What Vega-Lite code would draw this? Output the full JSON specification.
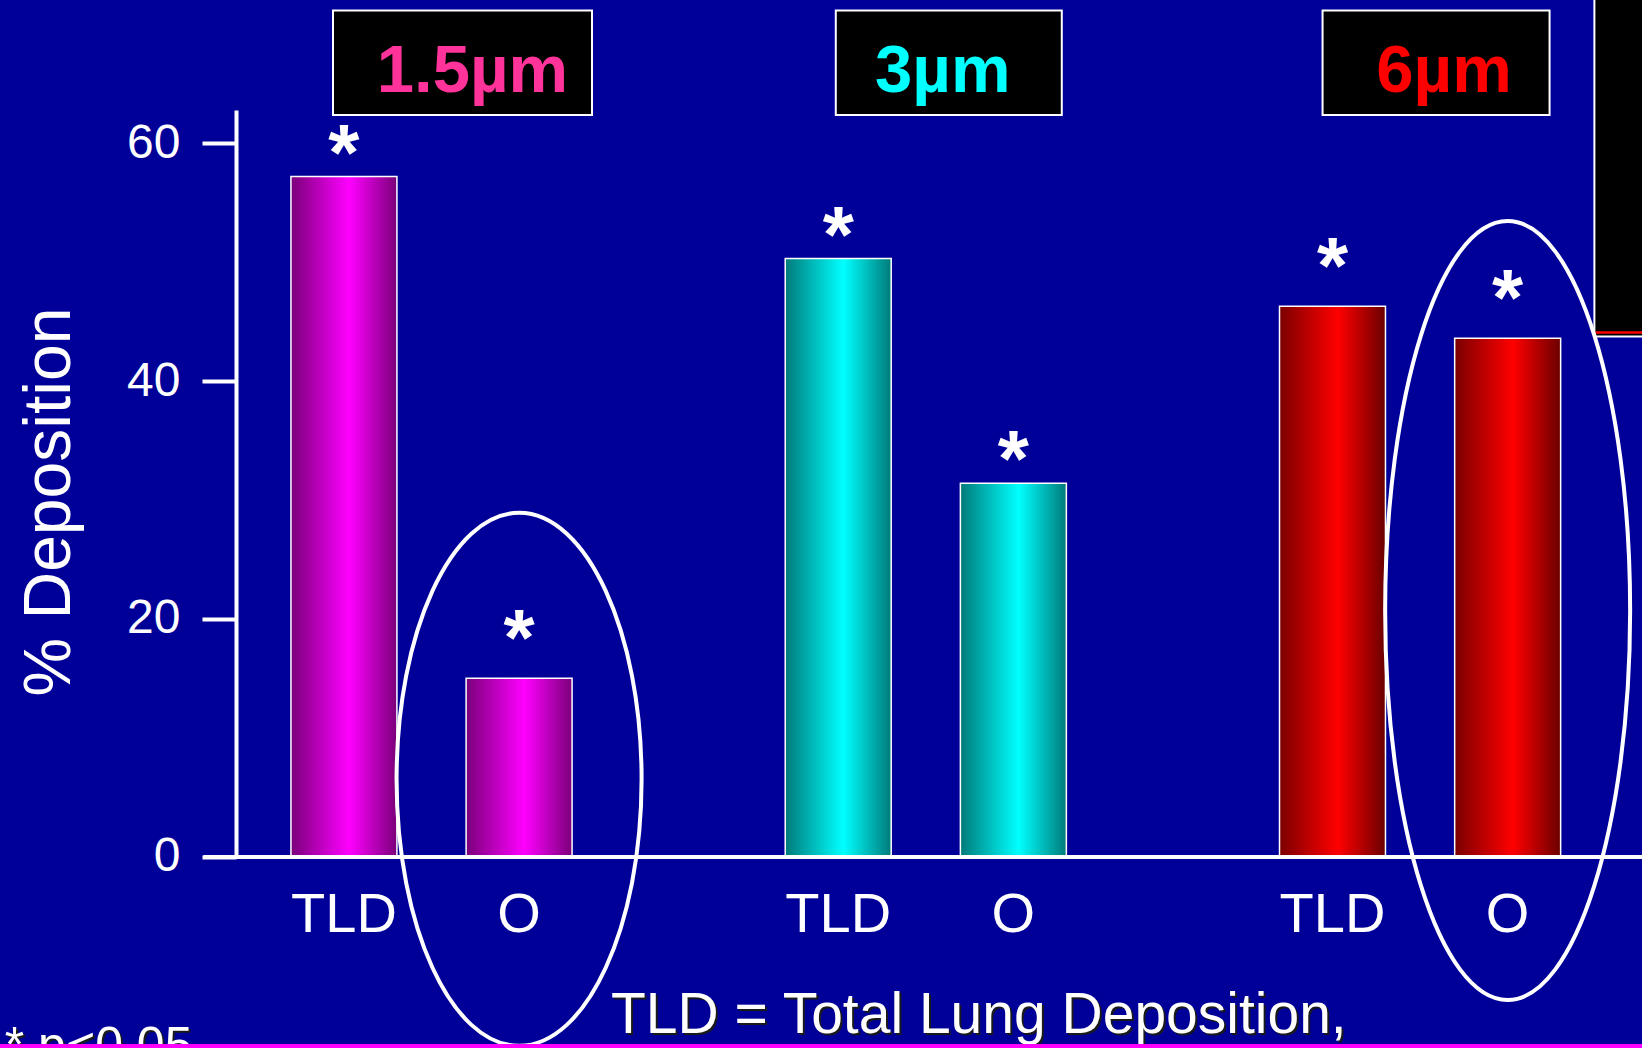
{
  "$schema": "https://vega.github.io/schema/vega-lite/v6.json",
  "autosize": {"type": "none"},
  "width": 1642,
  "height": 746.6,
  "padding": {"left": 0, "top": 110, "right": 0, "bottom": 191.4},
  "background": "#000099",
  "config": {"view": {"stroke": null}, "font": "Liberation Sans"},
  "datasets": {
    "deposition": [
      {"size": "1.5µm", "type": "TLD", "value": 57.2},
      {"size": "1.5µm", "type": "O", "value": 15.0},
      {"size": "3µm", "type": "TLD", "value": 50.3},
      {"size": "3µm", "type": "O", "value": 31.4},
      {"size": "6µm", "type": "TLD", "value": 46.3},
      {"size": "6µm", "type": "O", "value": 43.6}
    ],
    "sizes": [{"size": "1.5µm"}, {"size": "3µm"}, {"size": "6µm"}]
  },
  "layer": [
    {
      "data": {"name": "deposition"},
      "mark": {"type": "bar", "stroke": "white", "strokeWidth": 1.5},
      "encoding": {
        "x": {
          "field": "size",
          "type": "nominal",
          "scale": {"domain": ["1.5µm", "3µm", "6µm"], "paddingInner": 0.208, "paddingOuter": 0.265, "align": 0.9},
          "axis": {
            "labels": false,
            "ticks": false,
            "title": null,
            "domainColor": "white",
            "domainWidth": 4,
            "domainDash": [0, 203, 1439, 0],
            "zindex": 1
          }
        },
        "xOffset": {"field": "type", "type": "nominal", "scale": {"domain": ["TLD", "O"], "paddingInner": 0.395, "paddingOuter": 0.315}},
        "y": {
          "field": "value",
          "type": "quantitative",
          "scale": {"domain": [0, 62.8], "nice": false, "zero": true},
          "axis": {
            "values": [0, 20, 40, 60],
            "grid": false,
            "offset": -236,
            "domainColor": "white",
            "domainWidth": 4,
            "tickColor": "white",
            "tickWidth": 4,
            "tickSize": 34,
            "labelColor": "white",
            "labelFont": "Liberation Sans",
            "labelFontSize": 48,
            "labelPadding": 22,
            "title": "% Deposition",
            "titleColor": "white",
            "titleFont": "Liberation Sans",
            "titleFontSize": 66,
            "titleFontWeight": "normal",
            "titleAngle": 270,
            "titleAlign": "center",
            "titleBaseline": "alphabetic",
            "titleX": -167,
            "titleY": 391.6
          }
        },
        "fill": {
          "condition": [
            {
              "test": "datum.size === '1.5µm'",
              "value": {"gradient": "linear", "x1": 0, "y1": 0, "x2": 1, "y2": 0,
                "stops": [{"offset": 0, "color": "#7a007a"}, {"offset": 0.55, "color": "#ff00ff"}, {"offset": 1, "color": "#7a007a"}]}
            },
            {
              "test": "datum.size === '3µm'",
              "value": {"gradient": "linear", "x1": 0, "y1": 0, "x2": 1, "y2": 0,
                "stops": [{"offset": 0, "color": "#007a7a"}, {"offset": 0.55, "color": "#00ffff"}, {"offset": 1, "color": "#007a7a"}]}
            }
          ],
          "value": {"gradient": "linear", "x1": 0, "y1": 0, "x2": 1, "y2": 0,
            "stops": [{"offset": 0, "color": "#7a0000"}, {"offset": 0.55, "color": "#ff0000"}, {"offset": 1, "color": "#6a0000"}]}
        }
      }
    },
    {
      "data": {"values": [{"panel": "side"}]},
      "mark": {"type": "rect", "fill": "black", "stroke": "white", "strokeWidth": 2},
      "encoding": {
        "x": {"datum": "6µm", "bandPosition": 0.9453},
        "x2": {"datum": "6µm", "bandPosition": 1.2},
        "y": {"datum": 43.75, "type": "quantitative"},
        "y2": {"datum": 75}
      }
    },
    {
      "data": {"values": [{"panel": "side"}]},
      "mark": {"type": "rule", "stroke": "red", "strokeWidth": 2.5},
      "encoding": {
        "x": {"datum": "6µm", "bandPosition": 0.948},
        "x2": {"datum": "6µm", "bandPosition": 1.2},
        "y": {"datum": 44.08, "type": "quantitative"}
      }
    },
    {
      "data": {"name": "sizes"},
      "transform": [{"filter": "datum.size === '1.5µm'"}],
      "mark": {"type": "bar", "fill": "black", "stroke": "white", "strokeWidth": 2, "width": 259, "xOffset": 31},
      "encoding": {
        "x": {"field": "size", "type": "nominal"},
        "y": {"datum": 62.38, "type": "quantitative"},
        "y2": {"datum": 71.17}
      }
    },
    {
      "data": {"name": "sizes"},
      "transform": [{"filter": "datum.size === '3µm'"}],
      "mark": {"type": "bar", "fill": "black", "stroke": "white", "strokeWidth": 2, "width": 226, "xOffset": 23},
      "encoding": {
        "x": {"field": "size", "type": "nominal"},
        "y": {"datum": 62.38, "type": "quantitative"},
        "y2": {"datum": 71.17}
      }
    },
    {
      "data": {"name": "sizes"},
      "transform": [{"filter": "datum.size === '6µm'"}],
      "mark": {"type": "bar", "fill": "black", "stroke": "white", "strokeWidth": 2, "width": 227, "xOffset": 16},
      "encoding": {
        "x": {"field": "size", "type": "nominal"},
        "y": {"datum": 62.38, "type": "quantitative"},
        "y2": {"datum": 71.17}
      }
    },
    {
      "data": {"name": "sizes"},
      "transform": [{"filter": "datum.size === '1.5µm'"}],
      "mark": {"type": "text", "font": "Liberation Sans", "fontWeight": "bold", "fontSize": 67, "fill": "#ff3399", "align": "center", "baseline": "alphabetic", "dx": 41},
      "encoding": {"x": {"field": "size", "type": "nominal"}, "y": {"datum": 64.3, "type": "quantitative"}, "text": {"field": "size"}}
    },
    {
      "data": {"name": "sizes"},
      "transform": [{"filter": "datum.size === '3µm'"}],
      "mark": {"type": "text", "font": "Liberation Sans", "fontWeight": "bold", "fontSize": 67, "fill": "#00ffff", "align": "center", "baseline": "alphabetic", "dx": 17},
      "encoding": {"x": {"field": "size", "type": "nominal"}, "y": {"datum": 64.3, "type": "quantitative"}, "text": {"field": "size"}}
    },
    {
      "data": {"name": "sizes"},
      "transform": [{"filter": "datum.size === '6µm'"}],
      "mark": {"type": "text", "font": "Liberation Sans", "fontWeight": "bold", "fontSize": 67, "fill": "#ff0000", "align": "center", "baseline": "alphabetic", "dx": 24},
      "encoding": {"x": {"field": "size", "type": "nominal"}, "y": {"datum": 64.3, "type": "quantitative"}, "text": {"field": "size"}}
    },
    {
      "data": {"name": "deposition"},
      "transform": [{"filter": "!((datum.size === '1.5µm' && datum.type === 'O') || datum.size === '6µm')"}],
      "mark": {"type": "text", "text": "*", "font": "Liberation Sans", "fontWeight": "bold", "fontSize": 80, "fill": "white", "align": "center", "baseline": "alphabetic", "dy": 3},
      "encoding": {
        "x": {"field": "size", "type": "nominal"},
        "xOffset": {"field": "type", "type": "nominal"},
        "y": {"field": "value", "type": "quantitative"}
      }
    },
    {
      "data": {"name": "deposition"},
      "transform": [{"filter": "(datum.size === '1.5µm' && datum.type === 'O') || datum.size === '6µm'"}],
      "mark": {"type": "text", "text": "*", "font": "Liberation Sans", "fontWeight": "bold", "fontSize": 80, "fill": "white", "align": "center", "baseline": "alphabetic", "dy": -13},
      "encoding": {
        "x": {"field": "size", "type": "nominal"},
        "xOffset": {"field": "type", "type": "nominal"},
        "y": {"field": "value", "type": "quantitative"}
      }
    },
    {
      "data": {"name": "deposition"},
      "mark": {"type": "text", "font": "Liberation Sans", "fontSize": 56, "fill": "white", "align": "center", "baseline": "alphabetic", "dy": 75},
      "encoding": {
        "x": {"field": "size", "type": "nominal"},
        "xOffset": {"field": "type", "type": "nominal"},
        "y": {"datum": 0, "type": "quantitative"},
        "text": {"field": "type"}
      }
    },
    {
      "data": {"name": "deposition"},
      "transform": [{"filter": "datum.size === '1.5µm' && datum.type === 'O'"}],
      "mark": {
        "type": "point",
        "shape": "M0.4597,0 C0.4597,0.5523 0.2539,1 0,1 C-0.2539,1 -0.4597,0.5523 -0.4597,0 C-0.4597,-0.5523 -0.2539,-1 0,-1 C0.2539,-1 0.4597,-0.5523 0.4597,0 Z",
        "size": 284089,
        "filled": false,
        "stroke": "white",
        "strokeWidth": 4,
        "opacity": 1
      },
      "encoding": {
        "x": {"field": "size", "type": "nominal"},
        "xOffset": {"field": "type", "type": "nominal"},
        "y": {"datum": 6.5, "type": "quantitative"}
      }
    },
    {
      "data": {"name": "deposition"},
      "transform": [{"filter": "datum.size === '6µm' && datum.type === 'O'"}],
      "mark": {
        "type": "point",
        "shape": "M0.3145,0 C0.3145,0.5523 0.1737,1 0,1 C-0.1737,1 -0.3145,0.5523 -0.3145,0 C-0.3145,-0.5523 -0.1737,-1 0,-1 C0.1737,-1 0.3145,-0.5523 0.3145,0 Z",
        "size": 606841,
        "filled": false,
        "stroke": "white",
        "strokeWidth": 4,
        "opacity": 1
      },
      "encoding": {
        "x": {"field": "size", "type": "nominal"},
        "xOffset": {"field": "type", "type": "nominal"},
        "y": {"datum": 20.7, "type": "quantitative"}
      }
    },
    {
      "data": {"values": [{"note": "TLD = Total Lung Deposition,"}]},
      "mark": {"type": "text", "font": "Liberation Sans", "fontSize": 57, "fill": "#1a1a1a", "align": "left", "baseline": "alphabetic", "dx": -117, "dy": 178.4},
      "encoding": {"x": {"datum": "3µm", "bandPosition": 0}, "y": {"datum": 0, "type": "quantitative"}, "text": {"field": "note"}}
    },
    {
      "data": {"values": [{"note": "TLD = Total Lung Deposition,"}]},
      "mark": {"type": "text", "font": "Liberation Sans", "fontSize": 57, "fill": "white", "align": "left", "baseline": "alphabetic", "dx": -119, "dy": 176.4},
      "encoding": {"x": {"datum": "3µm", "bandPosition": 0}, "y": {"datum": 0, "type": "quantitative"}, "text": {"field": "note"}}
    },
    {
      "data": {"values": [{"note": "* p<0.05"}]},
      "mark": {"type": "text", "font": "Liberation Sans", "fontSize": 50, "fill": "#1a1a1a", "align": "left", "baseline": "alphabetic", "dx": -229, "dy": 207},
      "encoding": {"x": {"datum": "1.5µm", "bandPosition": 0}, "y": {"datum": 0, "type": "quantitative"}, "text": {"field": "note"}}
    },
    {
      "data": {"values": [{"note": "* p<0.05"}]},
      "mark": {"type": "text", "font": "Liberation Sans", "fontSize": 50, "fill": "white", "align": "left", "baseline": "alphabetic", "dx": -231, "dy": 205},
      "encoding": {"x": {"datum": "1.5µm", "bandPosition": 0}, "y": {"datum": 0, "type": "quantitative"}, "text": {"field": "note"}}
    },
    {
      "data": {"values": [{"line": "footer"}]},
      "mark": {"type": "rule", "stroke": "#ff00ff", "strokeWidth": 4},
      "encoding": {"y": {"datum": -15.93, "type": "quantitative"}}
    }
  ]
}
